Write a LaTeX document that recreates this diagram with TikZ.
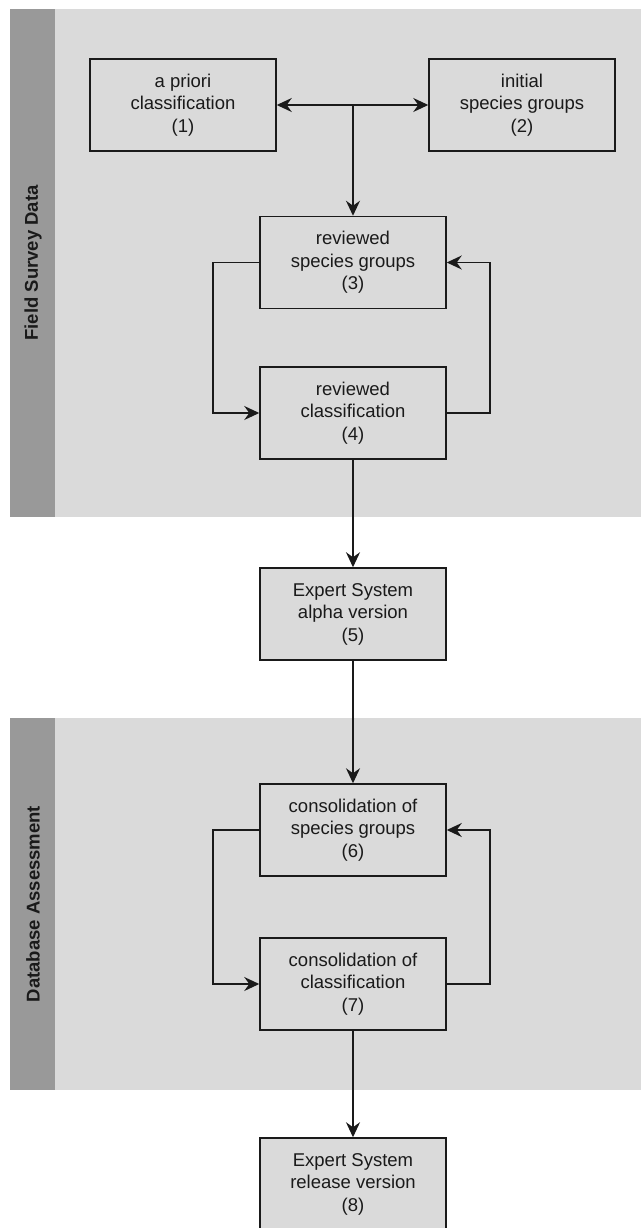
\documentclass[tikz,border=0pt]{standalone}
\usepackage{fontspec}
\setmainfont{Liberation Sans}
\usetikzlibrary{arrows.meta}
\definecolor{lanebg}{HTML}{DADADA}
\definecolor{lanehd}{HTML}{999999}
\definecolor{ink}{HTML}{1A1A1A}
\begin{document}
\begin{tikzpicture}[x=1pt,y=-1pt,
  lane/.style={fill=lanebg,draw=none},
  lanehead/.style={fill=lanehd,draw=none},
  lanelabel/.style={rotate=90,font=\fontsize{18.5}{22}\selectfont\bfseries,text=ink},
  box/.style={draw=ink,line width=1.5pt,fill=lanebg,minimum width=186pt,minimum height=92pt,
    inner sep=0pt,align=center,text=ink,font=\fontsize{18.5}{22.5}\selectfont},
  conn/.style={draw=ink,line width=1.5pt,-{Stealth[length=15pt,width=14pt,inset=5pt]}}]
\useasboundingbox (0,0) rectangle (641,1228);
\fill[white] (0,0) rectangle (641,1228);
% lanes
\path[lane] (10,9) rectangle (641,517);
\path[lanehead] (10,9) rectangle (55,517);
\node[lanelabel] (l1) at (33,263) {Field Survey Data};
\path[lane] (10,718) rectangle (641,1090);
\path[lanehead] (10,718) rectangle (55,1090);
\node[lanelabel] (l2) at (33,904) {Database Assessment};
% boxes
\node[box] (b1) at (183,105) {a priori\\classification\\(1)};
\node[box] (b2) at (522,105) {initial\\species groups\\(2)};
\node[box] (b3) at (353,262.5) {reviewed\\species groups\\(3)};
\node[box] (b4) at (353,413) {reviewed\\classification\\(4)};
\node[box] (b5) at (353,614) {Expert System\\alpha version\\(5)};
\node[box] (b6) at (353,830) {consolidation of\\species groups\\(6)};
\node[box] (b7) at (353,984) {consolidation of\\classification\\(7)};
\node[box] (b8) at (353,1184) {Expert System\\release version\\(8)};
% connectors
\coordinate (j) at (353,105);
\draw[conn] (j) -- (b1.east);
\draw[conn] (j) -- (b2.west);
\draw[conn] (j) -- (b3.north);
\draw[conn] (b3.west) -| (213,413) -- (b4.west);
\draw[conn] (b4.east) -| (490,262.5) -- (b3.east);
\draw[conn] (b4.south) -- (b5.north);
\draw[conn] (b5.south) -- (b6.north);
\draw[conn] (b6.west) -| (213,984) -- (b7.west);
\draw[conn] (b7.east) -| (490,830) -- (b6.east);
\draw[conn] (b7.south) -- (b8.north);
\end{tikzpicture}
\end{document}
